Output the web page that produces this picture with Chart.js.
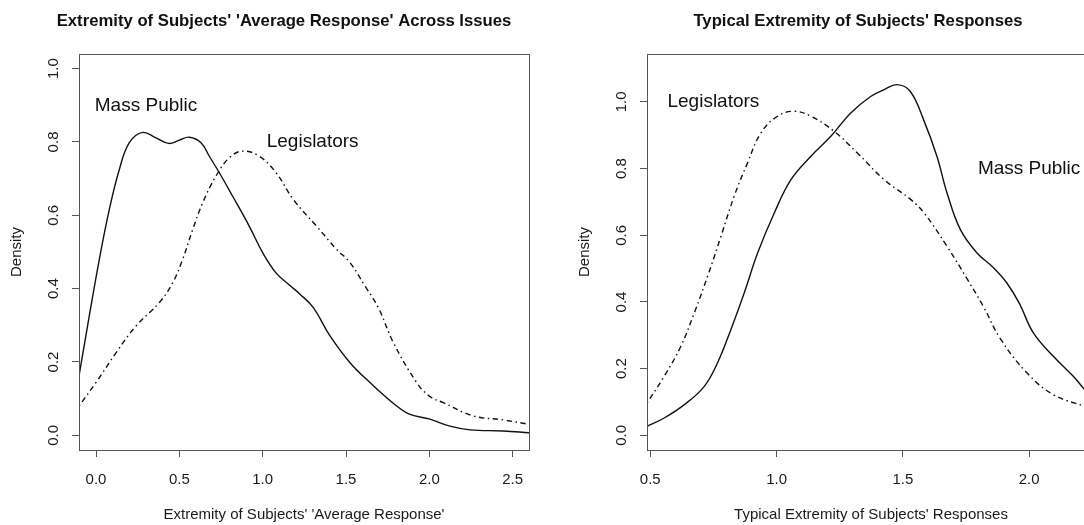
<!DOCTYPE html>
<html>
<head>
<meta charset="utf-8">
<script src="https://cdn.jsdelivr.net/npm/chart.js@4.4.0/dist/chart.umd.min.js"></script>
<style>
  html, body { margin: 0; padding: 0; background: #fff; overflow: hidden; }
  #wrap { position: relative; width: 1084px; height: 525px; overflow: hidden; }
  #left { position: absolute; left: 0; top: 0; }
  #right { position: absolute; left: 568px; top: 0; }
</style>
</head>
<body>
<div id="wrap">
  <canvas id="left" width="568" height="525"></canvas>
  <canvas id="right" width="580" height="525"></canvas>
</div>
<script>
// left panel: extremity of the 'average response'
const avgMassX = [-0.102, -0.05, 0.02, 0.08, 0.14, 0.20, 0.28, 0.36, 0.436, 0.50, 0.56, 0.63, 0.68, 0.74, 0.82, 0.92, 1.00, 1.08, 1.16, 1.224, 1.304, 1.404, 1.524, 1.644, 1.804, 1.884, 2.004, 2.124, 2.244, 2.444, 2.598];
const avgMassY = [0.162, 0.300, 0.480, 0.616, 0.725, 0.798, 0.826, 0.811, 0.796, 0.805, 0.813, 0.798, 0.761, 0.716, 0.652, 0.570, 0.498, 0.443, 0.410, 0.385, 0.348, 0.271, 0.198, 0.144, 0.080, 0.057, 0.044, 0.025, 0.015, 0.012, 0.007];
const avgLegX = [-0.102, 0.0, 0.12, 0.24, 0.38, 0.46, 0.52, 0.58, 0.64, 0.72, 0.80, 0.88, 0.98, 1.08, 1.184, 1.324, 1.444, 1.524, 1.614, 1.694, 1.784, 1.924, 2.0, 2.084, 2.264, 2.444, 2.598];
const avgLegY = [0.080, 0.144, 0.225, 0.298, 0.362, 0.416, 0.480, 0.561, 0.634, 0.707, 0.757, 0.775, 0.761, 0.716, 0.643, 0.570, 0.507, 0.471, 0.407, 0.348, 0.253, 0.144, 0.107, 0.089, 0.053, 0.042, 0.030];
const avgXTicks = [0, 0.5, 1.0, 1.5, 2.0, 2.5];
const avgYTicks = [0, 0.2, 0.4, 0.6, 0.8, 1.0];

// right panel: typical extremity of responses
const typMassX = [0.487, 0.555, 0.635, 0.714, 0.766, 0.819, 0.872, 0.925, 0.991, 1.057, 1.136, 1.215, 1.294, 1.374, 1.426, 1.477, 1.529, 1.582, 1.635, 1.675, 1.728, 1.794, 1.860, 1.912, 1.962, 2.017, 2.096, 2.175, 2.22];
const typMassY = [0.027, 0.052, 0.092, 0.147, 0.217, 0.317, 0.427, 0.547, 0.667, 0.767, 0.837, 0.897, 0.967, 1.017, 1.037, 1.052, 1.032, 0.947, 0.837, 0.727, 0.617, 0.547, 0.502, 0.457, 0.395, 0.307, 0.237, 0.177, 0.137];
const typLegX = [0.487, 0.555, 0.621, 0.674, 0.727, 0.780, 0.832, 0.885, 0.938, 1.004, 1.070, 1.136, 1.228, 1.320, 1.426, 1.532, 1.584, 1.675, 1.754, 1.820, 1.886, 1.992, 2.096, 2.22];
const typLegY = [0.097, 0.177, 0.267, 0.367, 0.477, 0.597, 0.717, 0.817, 0.907, 0.957, 0.972, 0.957, 0.912, 0.847, 0.767, 0.707, 0.667, 0.567, 0.470, 0.385, 0.290, 0.187, 0.122, 0.087];
const typXTicks = [0.5, 1.0, 1.5, 2.0];
const typYTicks = [0, 0.2, 0.4, 0.6, 0.8, 1.0];

const FONT = "'Liberation Sans', Arial, Helvetica, sans-serif";
Chart.defaults.font.family = FONT;
Chart.defaults.color = "#1a1a1a";

const toPoints = (xs, ys) => xs.map((x, i) => ({ x: x, y: ys[i] }));

// R style box round the plot region
const frame = {
    id: "frame",
    afterDatasetsDraw(chart) {
        const a = chart.chartArea;
        const ctx = chart.ctx;
        ctx.save();
        ctx.strokeStyle = "#555";
        ctx.lineWidth = 1;
        ctx.strokeRect(Math.round(a.left) + 0.5, Math.round(a.top) + 0.5,
            Math.round(a.right - a.left), Math.round(a.bottom - a.top));
        ctx.restore();
    }
};

// text() labels placed in data units
const textLabels = {
    id: "textLabels",
    afterDatasetsDraw(chart, args, opts) {
        const ctx = chart.ctx;
        const x = chart.scales.x;
        const y = chart.scales.y;
        ctx.save();
        ctx.font = "19px " + FONT;
        ctx.fillStyle = "#111";
        ctx.textAlign = "center";
        ctx.textBaseline = "middle";
        opts.items.forEach(it => {
            ctx.fillText(it.text, x.getPixelForValue(it.x), y.getPixelForValue(it.y));
        });
        ctx.restore();
    }
};

function makeChart(id, cfg) {
    return new Chart(document.getElementById(id), {
        type: "line",
        data: {
            datasets: [{
                label: "Mass Public",
                data: toPoints(cfg.massX, cfg.massY),
                borderColor: "#111",
                borderWidth: 1.4,
                pointRadius: 0,
                tension: 0.4
            }, {
                label: "Legislators",
                data: toPoints(cfg.legX, cfg.legY),
                borderColor: "#111",
                borderWidth: 1.4,
                borderDash: [1.5, 3.5, 5.5, 3.5],
                pointRadius: 0,
                tension: 0.4
            }]
        },
        options: {
            responsive: false,
            animation: false,
            plugins: {
                legend: { display: false },
                tooltip: { enabled: false },
                title: {
                    display: true,
                    text: cfg.title,
                    color: "#111",
                    font: { size: 16.7, weight: "bold" },
                    padding: { top: 11, bottom: 22.9 }
                },
                textLabels: { items: cfg.labels }
            },
            scales: {
                x: {
                    type: "linear",
                    min: cfg.xMin,
                    max: cfg.xMax,
                    afterBuildTicks: s => { s.ticks = cfg.xTicks.map(v => ({ value: v })); },
                    afterFit: s => { s.height = 75; },
                    grid: { drawOnChartArea: false, drawTicks: true, tickLength: 7, color: "#555" },
                    border: { display: false },
                    ticks: {
                        font: { size: 15 },
                        padding: 14,
                        maxRotation: 0,
                        autoSkip: false,
                        callback: v => v.toFixed(1)
                    },
                    title: {
                        display: true,
                        text: cfg.xTitle,
                        font: { size: 15 },
                        padding: { top: 0, bottom: 1 }
                    }
                },
                y: {
                    min: cfg.yMin,
                    max: cfg.yMax,
                    afterBuildTicks: s => { s.ticks = cfg.yTicks.map(v => ({ value: v })); },
                    afterFit: s => { s.width = 79; },
                    grid: { drawOnChartArea: false, drawTicks: true, tickLength: 7, color: "#555" },
                    border: { display: false },
                    ticks: {
                        font: { size: 15 },
                        minRotation: 90,
                        maxRotation: 90,
                        crossAlign: "center",
                        padding: 8,
                        autoSkip: false,
                        callback: v => v.toFixed(1)
                    },
                    title: {
                        display: true,
                        text: "Density",
                        font: { size: 15 },
                        padding: { top: 8, bottom: 0 }
                    }
                },
                // empty right margin, so the title centres on the whole panel
                yPad: {
                    position: "right",
                    afterFit: s => { s.width = cfg.padRight; },
                    grid: { display: false },
                    border: { display: false },
                    ticks: { display: false }
                }
            }
        },
        plugins: [frame, textLabels]
    });
}

makeChart("left", {
    title: "Extremity of Subjects' 'Average Response' Across Issues",
    xTitle: "Extremity of Subjects' 'Average Response'",
    massX: avgMassX, massY: avgMassY,
    legX: avgLegX, legY: avgLegY,
    xTicks: avgXTicks, yTicks: avgYTicks,
    xMin: -0.102, xMax: 2.598,
    yMin: -0.04, yMax: 1.04,
    padRight: 39,
    labels: [
        { text: "Mass Public", x: 0.30, y: 0.90 },
        { text: "Legislators", x: 1.30, y: 0.80 }
    ]
});

makeChart("right", {
    title: "Typical Extremity of Subjects' Responses",
    xTitle: "Typical Extremity of Subjects' Responses",
    massX: typMassX, massY: typMassY,
    legX: typLegX, legY: typLegY,
    xTicks: typXTicks, yTicks: typYTicks,
    xMin: 0.487, xMax: 2.261,
    yMin: -0.044, yMax: 1.144,
    padRight: 53,
    labels: [
        { text: "Legislators", x: 0.75, y: 1.00 },
        { text: "Mass Public", x: 2.00, y: 0.80 }
    ]
});
</script>
</body>
</html>
